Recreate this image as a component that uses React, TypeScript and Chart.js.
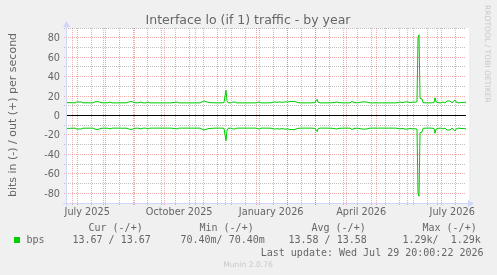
import React, { useEffect, useRef } from 'react';
import { Chart, registerables } from 'chart.js';

Chart.register(...registerables);

// ---- time frame (UTC) ----
const START_UTC = Date.UTC(2025, 5, 24, 20, 0, 22);
const DAY_MS = 86400000;
const SPAN_DAYS = 400;

// ---- data: days since start of graph, bits per second (out = +, in = -) ----
const sampleDays = [
  0, 3, 6, 9, 11, 13, 15, 17, 20, 24,
  27, 29, 31, 33, 35, 38, 42, 44, 46, 50,
  54, 57, 60, 64, 66, 68, 72, 75, 77, 80,
  82, 84, 88, 92, 96, 100, 105, 111, 113, 118,
  124, 130, 134, 138, 140, 142, 145, 150, 155, 158,
  159, 160, 161, 162, 165, 167, 169, 171, 175, 180,
  185, 190, 193, 195, 200, 205, 209, 211, 213, 216,
  219, 222, 224, 226, 228, 230, 232, 235, 240, 244,
  249, 250, 251, 252, 254, 260, 266, 271, 273, 278,
  284, 286, 288, 292, 296, 298, 301, 304, 310, 316,
  322, 330, 334, 336, 339, 342, 344, 347, 349, 351,
  352, 353, 354, 356, 357, 360, 365, 368, 369, 370,
  372, 375, 377, 379, 381, 384, 386, 388, 389, 390,
  392, 395, 398, 400,
];
const bpsOut = [
  13.4, 13.2, 13.1, 13.0, 14.0, 13.8, 14.0, 13.0, 13.1, 13.0,
  13.0, 14.0, 14.3, 14.0, 13.2, 13.0, 13.1, 13.8, 13.0, 13.0,
  13.0, 13.1, 13.0, 14.2, 14.3, 13.2, 13.0, 13.8, 13.0, 13.0,
  13.9, 13.0, 13.0, 13.0, 13.0, 13.0, 13.0, 13.8, 13.0, 13.0,
  13.0, 13.0, 13.0, 15.0, 14.2, 13.6, 13.2, 13.0, 13.0, 13.2,
  20.0, 26.0, 15.0, 13.2, 13.0, 13.9, 13.8, 13.0, 13.0, 13.0,
  13.0, 13.0, 14.0, 13.0, 13.0, 13.1, 14.0, 13.5, 14.0, 13.5,
  14.0, 13.8, 14.5, 14.4, 14.6, 14.0, 13.2, 13.0, 13.0, 13.0,
  13.2, 15.0, 16.6, 13.8, 13.0, 13.0, 13.1, 13.9, 13.2, 13.0,
  13.0, 14.5, 13.2, 13.1, 13.9, 14.0, 13.8, 13.0, 13.0, 13.0,
  13.0, 13.0, 13.8, 13.2, 13.9, 14.0, 13.2, 13.8, 13.6, 14.0,
  80.0, 83.0, 17.7, 17.0, 13.2, 13.0, 13.0, 13.3, 18.3, 14.0,
  13.2, 13.0, 13.8, 13.0, 14.9, 14.9, 13.0, 15.0, 16.0, 14.0,
  13.0, 13.3, 13.5, 13.67,
];

// ---- axes / labels ----
const yMin = -90;
const yMax = 90;
const yLabelValues = [-80, -60, -40, -20, 0, 20, 40, 60, 80];
const monthStarts = [
  '2025-07-01', '2025-08-01', '2025-09-01', '2025-10-01', '2025-11-01', '2025-12-01',
  '2026-01-01', '2026-02-01', '2026-03-01', '2026-04-01', '2026-05-01', '2026-06-01', '2026-07-01',
];
const firstMinorSunday = '2025-07-06';
const xLabelDates = ['2025-07-01', '2025-10-01', '2026-01-01', '2026-04-01', '2026-07-01'];
const xLabelTexts = ['July 2025', 'October 2025', 'January 2026', 'April 2026', 'July 2026'];

const titleText = 'Interface lo (if 1) traffic - by year';
const yAxisTitle = 'bits in (-) / out (+) per second';
const legendHeaders = ['Cur (-/+)', 'Min (-/+)', 'Avg (-/+)', 'Max (-/+)'];
const legendName = 'bps';
const legendValues = ['13.67 / 13.67', '70.40m/ 70.40m', '13.58 / 13.58', '1.29k/  1.29k'];
const lastUpdate = 'Last update: Wed Jul 29 20:00:22 2026';
const watermark = 'RRDTOOL / TOBI OETIKER';
const version = 'Munin 2.0.76';

const GREEN = '#00CC00';
const FONT_COLOR = '#666666';
const AXIS_COLOR = '#CFD6F8';
const GRID = 'rgba(150,150,150,0.6)';
const MGRID = 'rgba(222,79,79,0.45)';
const SANS = '"DejaVu Sans", sans-serif';
const MONO = '"DejaVu Sans Mono", monospace';

const dayOf = (iso: string) => {
  const [y, m, d] = iso.split('-').map(Number);
  return (Date.UTC(y, m - 1, d) - START_UTC) / DAY_MS;
};

const muninPlugin = {
  id: 'muninDecor',
  beforeDraw(chart: any) {
    const { ctx, chartArea: a } = chart;
    const x = chart.scales.x;
    const y = chart.scales.y;
    ctx.save();
    ctx.fillStyle = '#F0F0F0';
    ctx.fillRect(0, 0, chart.width, chart.height);
    ctx.fillStyle = '#FFFFFF';
    ctx.fillRect(a.left, a.top, a.right - a.left + 3, a.bottom - a.top);

    ctx.lineWidth = 1;
    ctx.setLineDash([1, 1]);
    // minor vertical grid (every 2 weeks)
    const minorStart = dayOf(firstMinorSunday);
    ctx.strokeStyle = GRID;
    for (let d = minorStart; d < SPAN_DAYS; d += 14) {
      const px = Math.floor(x.getPixelForValue(d)) + 0.5;
      ctx.beginPath();
      ctx.moveTo(px, a.top);
      ctx.lineTo(px, a.bottom + 3);
      ctx.stroke();
    }
    // minor horizontal grid
    for (let v = yMin; v <= yMax; v += 10) {
      if (v % 20 === 0) continue;
      const py = Math.floor(y.getPixelForValue(v)) + 0.5;
      ctx.beginPath();
      ctx.moveTo(a.left - 2, py);
      ctx.lineTo(a.right, py);
      ctx.stroke();
    }
    // major
    ctx.strokeStyle = MGRID;
    monthStarts.forEach((iso) => {
      const px = Math.floor(x.getPixelForValue(dayOf(iso))) + 0.5;
      ctx.beginPath();
      ctx.moveTo(px, a.top);
      ctx.lineTo(px, a.bottom + 3);
      ctx.stroke();
    });
    yLabelValues.forEach((v) => {
      if (v === 0) return;
      const py = Math.floor(y.getPixelForValue(v)) + 0.5;
      ctx.beginPath();
      ctx.moveTo(a.left - 2, py);
      ctx.lineTo(a.right, py);
      ctx.stroke();
    });
    ctx.setLineDash([]);

    // zero line
    const zy = Math.floor(y.getPixelForValue(0)) + 0.5;
    ctx.strokeStyle = '#000000';
    ctx.beginPath();
    ctx.moveTo(a.left, zy);
    ctx.lineTo(a.right, zy);
    ctx.stroke();

    // text
    ctx.fillStyle = FONT_COLOR;
    ctx.font = `12.5px ${SANS}`;
    ctx.textAlign = 'center';
    ctx.textBaseline = 'alphabetic';
    ctx.fillText(titleText, 248, 24);

    ctx.font = `9.72px ${SANS}`;
    ctx.textAlign = 'right';
    yLabelValues.forEach((v) => {
      const py = Math.floor(y.getPixelForValue(v)) + 0.5;
      ctx.fillText(String(v), 60, py + 3.5);
    });
    ctx.textAlign = 'center';
    xLabelDates.forEach((iso, i) => {
      const px = x.getPixelForValue(dayOf(iso) + 15);
      ctx.fillText(xLabelTexts[i], px, 214.5);
    });

    ctx.save();
    ctx.font = `11px ${SANS}`;
    ctx.translate(15.5, 115);
    ctx.rotate(-Math.PI / 2);
    ctx.textAlign = 'center';
    ctx.fillText(yAxisTitle, 0, 0);
    ctx.restore();

    // watermark
    ctx.save();
    ctx.fillStyle = '#C8C8C8';
    ctx.font = `7.6px ${SANS}`;
    ctx.translate(485, 5);
    ctx.rotate(Math.PI / 2);
    ctx.textAlign = 'left';
    ctx.fillText(watermark, 0, 0);
    ctx.restore();

    // legend
    ctx.font = `10px ${MONO}`;
    ctx.textAlign = 'left';
    const headerX = [88.5, 199.5, 311.5, 422.5];
    legendHeaders.forEach((h, i) => ctx.fillText(h, headerX[i], 231.3));
    ctx.fillStyle = GREEN;
    ctx.fillRect(14, 237, 6, 6);
    ctx.fillStyle = FONT_COLOR;
    ctx.fillText(legendName, 26.5, 243.3);
    const valueX = [72.5, 180.5, 288.5, 402.5];
    legendValues.forEach((t, i) => ctx.fillText(t, valueX[i], 243.3));
    ctx.textAlign = 'right';
    ctx.fillText(lastUpdate, 483.5, 255.6);

    ctx.fillStyle = '#C8C8C8';
    ctx.font = `7.6px ${SANS}`;
    ctx.textAlign = 'center';
    ctx.fillText(version, 248, 266.5);
    ctx.restore();
  },
  afterDatasetsDraw(chart: any) {
    const { ctx, chartArea: a } = chart;
    ctx.save();
    ctx.strokeStyle = AXIS_COLOR;
    ctx.fillStyle = AXIS_COLOR;
    ctx.lineWidth = 1;
    const ax = Math.floor(a.left) + 0.5;
    const ay = Math.floor(a.bottom) + 0.5;
    ctx.beginPath();
    ctx.moveTo(ax, a.top - 2);
    ctx.lineTo(ax, ay + 3);
    ctx.moveTo(a.left - 3, ay);
    ctx.lineTo(a.right + 2, ay);
    ctx.stroke();
    // up arrow
    ctx.beginPath();
    ctx.moveTo(ax, 21);
    ctx.lineTo(ax - 3.5, 27);
    ctx.lineTo(ax + 3.5, 27);
    ctx.closePath();
    ctx.fill();
    // right arrow
    ctx.beginPath();
    ctx.moveTo(474, ay);
    ctx.lineTo(468, ay - 3.5);
    ctx.lineTo(468, ay + 3.5);
    ctx.closePath();
    ctx.fill();
    ctx.restore();
  },
};

export default function App() {
  const canvasRef = useRef<HTMLCanvasElement | null>(null);

  useEffect(() => {
    const canvas = canvasRef.current;
    if (!canvas) return;
    const outPoints = sampleDays.map((d, i) => ({ x: d, y: bpsOut[i] }));
    const inPoints = sampleDays.map((d, i) => ({ x: d, y: -bpsOut[i] }));
    const chart = new Chart(canvas, {
      type: 'line',
      data: {
        datasets: [
          { label: 'out', data: outPoints, borderColor: GREEN, borderWidth: 1, pointRadius: 0, tension: 0, fill: false },
          { label: 'in', data: inPoints, borderColor: GREEN, borderWidth: 1, pointRadius: 0, tension: 0, fill: false },
        ],
      },
      options: {
        responsive: false,
        animation: false,
        devicePixelRatio: 1,
        layout: { padding: { left: 66, right: 31, top: 28, bottom: 72 } },
        scales: {
          x: { type: 'linear', display: false, min: 0, max: SPAN_DAYS },
          y: { type: 'linear', display: false, min: yMin, max: yMax },
        },
        plugins: { legend: { display: false }, tooltip: { enabled: false }, title: { display: false } },
        events: [],
      },
      plugins: [muninPlugin],
    });
    return () => chart.destroy();
  }, []);

  return (
    <div style={{ position: 'fixed', left: 0, top: 0, width: 497, height: 275 }}>
      <canvas ref={canvasRef} width={497} height={275} style={{ display: 'block', width: 497, height: 275 }} />
    </div>
  );
}
